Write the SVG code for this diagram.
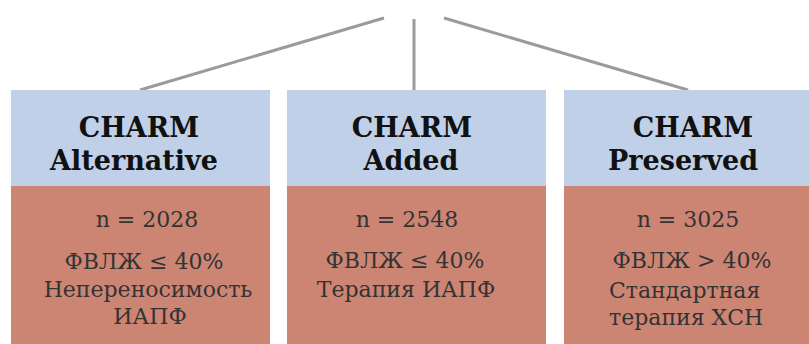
<svg xmlns="http://www.w3.org/2000/svg" width="809" height="344" viewBox="0 0 809 344" font-family="'DejaVu Serif', 'Liberation Serif', serif">
  <style>
    .head { fill: #C0D0E9; }
    .body { fill: #CD8573; }
    .link { stroke: #9B9B9B; stroke-width: 3; fill: none; }
    .title { font-weight: bold; font-size: 27px; fill: #111; text-anchor: middle; }
    .info { font-size: 22px; fill: #333; text-anchor: middle; }
    .left { text-anchor: start; }
  </style>

  <!-- connectors from the top to the three studies -->
  <g id="connectors">
    <line class="link" x1="384" y1="18" x2="140" y2="90"/>
    <line class="link" x1="414" y1="19" x2="414" y2="90"/>
    <line class="link" x1="444" y1="18" x2="688" y2="90"/>
  </g>

  <g id="charm-alternative">
    <rect class="head" x="11" y="90" width="259" height="96"/>
    <rect class="body" x="11" y="186" width="259" height="158"/>
    <text class="title" x="139" y="137">CHARM</text>
    <text class="title" x="134" y="170">Alternative</text>
    <text class="info" x="147" y="227">n = 2028</text>
    <text class="info" x="144" y="269">ФВЛЖ ≤ 40%</text>
    <text class="info" x="148" y="297">Непереносимость</text>
    <text class="info" x="150" y="324">ИАПФ</text>
  </g>

  <g id="charm-added">
    <rect class="head" x="287" y="90" width="259" height="96"/>
    <rect class="body" x="287" y="186" width="259" height="158"/>
    <text class="title" x="412" y="137">CHARM</text>
    <text class="title" x="411" y="170">Added</text>
    <text class="info" x="407" y="227">n = 2548</text>
    <text class="info" x="405" y="268">ФВЛЖ ≤ 40%</text>
    <text class="info" x="406" y="297">Терапия ИАПФ</text>
  </g>

  <g id="charm-preserved">
    <rect class="head" x="564" y="90" width="259" height="96"/>
    <rect class="body" x="564" y="186" width="259" height="158"/>
    <text class="title" x="693" y="137">CHARM</text>
    <text class="title" x="683" y="170">Preserved</text>
    <text class="info" x="688" y="227">n = 3025</text>
    <text class="info" x="692" y="268">ФВЛЖ &gt; 40%</text>
    <text class="info left" x="609" y="298">Стандартная</text>
    <text class="info left" x="609" y="325">терапия ХСН</text>
  </g>
</svg>
